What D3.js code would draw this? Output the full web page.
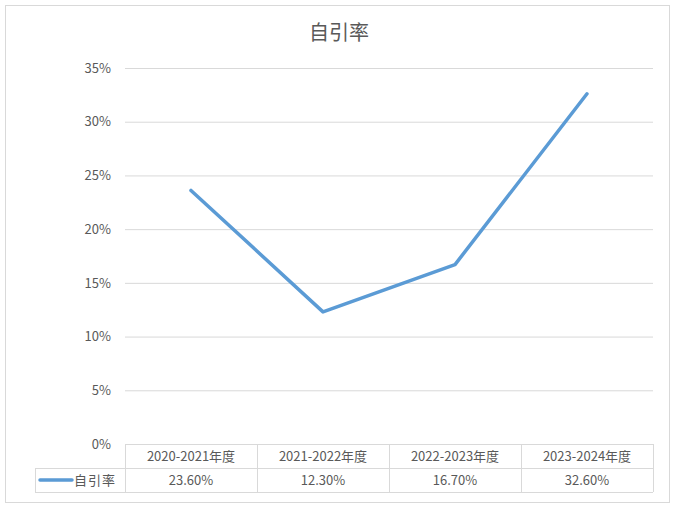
<!DOCTYPE html>
<html><head><meta charset="utf-8">
<script src="https://cdn.jsdelivr.net/npm/d3@7"></script>
<style>body{margin:0;background:#fff;}svg{display:block;}text{font-family:"Noto Sans CJK SC","Noto Sans",sans-serif;}</style>
</head><body>
<svg id="c" width="675" height="507"></svg>
<script>
const title = "自引率";
const seriesName = "自引率";
const categories = ["2020-2021年度","2021-2022年度","2022-2023年度","2023-2024年度"];
const values = [23.6, 12.3, 16.7, 32.6];
const valueLabels = ["23.60%","12.30%","16.70%","32.60%"];
const yTicks = [0,5,10,15,20,25,30,35];

(function(){
const svg = d3.select("#c");
const pL=125,pR=653,pT=68,pB=444;
const rowH=24;
const legendLeft=35;
const textColor="#595959", gridColor="#d9d9d9", lineColor="#5B9BD5";

svg.append("rect").attr("x",5.5).attr("y",5.5).attr("width",664).attr("height",497)
  .attr("fill","#fff").attr("stroke",gridColor);

svg.append("text").attr("x",339).attr("y",40).attr("text-anchor","middle")
  .attr("font-size",20).attr("fill",textColor).text(title);

const x = d3.scaleBand().domain(categories).range([pL,pR]).padding(0);
const y = d3.scaleLinear().domain([0,35]).range([pB,pT]);

const yAxis = d3.axisLeft(y).tickValues(yTicks).tickSize(-(pR-pL)).tickFormat(d=>d+"%").tickPadding(14);
const gy = svg.append("g").attr("transform",`translate(${pL},0)`).call(yAxis);
gy.select(".domain").remove();
gy.selectAll(".tick line").attr("stroke",gridColor).attr("stroke-width",1);
gy.selectAll(".tick text").attr("fill",textColor).attr("font-size",13).attr("font-family","'Noto Sans','DejaVu Sans',sans-serif");

const tbl = svg.append("g");
tbl.append("line").attr("x1",pL).attr("x2",pR).attr("y1",pB+0.5).attr("y2",pB+0.5).attr("stroke",gridColor);
tbl.append("line").attr("x1",legendLeft).attr("x2",pR).attr("y1",pB+rowH+0.5).attr("y2",pB+rowH+0.5).attr("stroke",gridColor);
tbl.append("line").attr("x1",legendLeft).attr("x2",pR).attr("y1",pB+2*rowH+0.5).attr("y2",pB+2*rowH+0.5).attr("stroke",gridColor);
tbl.append("line").attr("x1",legendLeft+0.5).attr("x2",legendLeft+0.5).attr("y1",pB+rowH).attr("y2",pB+2*rowH).attr("stroke",gridColor);
const bounds = categories.map(c=>x(c)).concat([pR]);
bounds.forEach(b=>{
  tbl.append("line").attr("x1",b+0.5).attr("x2",b+0.5).attr("y1",pB).attr("y2",pB+2*rowH).attr("stroke",gridColor);
});
categories.forEach((c,i)=>{
  tbl.append("text").attr("x",x(c)+x.bandwidth()/2).attr("y",pB+rowH/2+5).attr("text-anchor","middle")
    .attr("font-size",13).attr("fill",textColor).text(c);
  tbl.append("text").attr("x",x(c)+x.bandwidth()/2).attr("y",pB+rowH*1.5+5).attr("text-anchor","middle")
    .attr("font-size",13).attr("fill",textColor).attr("font-family","'Noto Sans','DejaVu Sans',sans-serif").text(valueLabels[i]);
});
tbl.append("line").attr("x1",40).attr("x2",72).attr("y1",pB+rowH*1.5).attr("y2",pB+rowH*1.5)
  .attr("stroke",lineColor).attr("stroke-width",3.5).attr("stroke-linecap","round");
tbl.append("text").attr("x",74).attr("y",pB+rowH*1.5+5).attr("font-size",13).attr("fill",textColor)
  .attr("letter-spacing",1).text(seriesName);

const line = d3.line().x((d,i)=>x(categories[i])+x.bandwidth()/2).y(d=>y(d));
svg.append("path").datum(values).attr("d",line).attr("fill","none")
  .attr("stroke",lineColor).attr("stroke-width",3.5).attr("stroke-linejoin","round").attr("stroke-linecap","round");
})();
</script>
</body></html>
